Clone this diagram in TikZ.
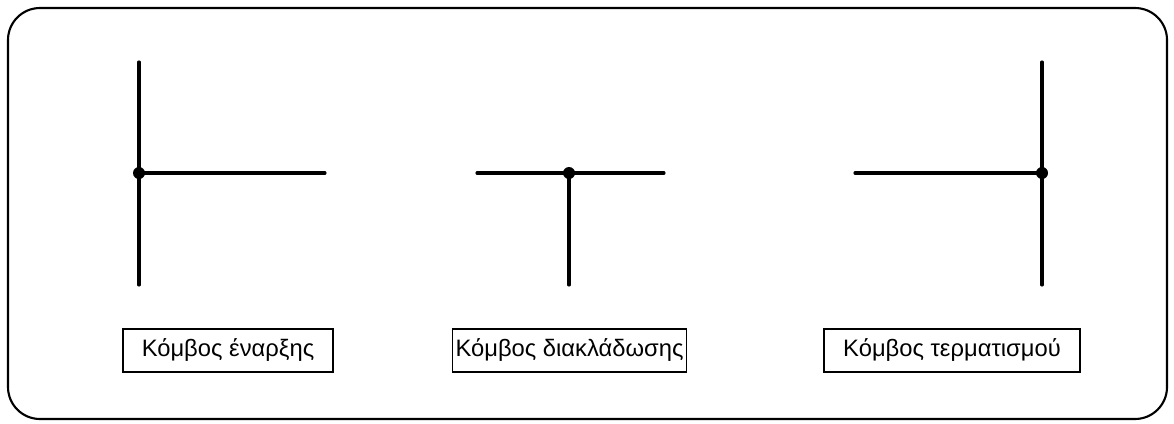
\documentclass[tikz,border=0pt]{standalone}
\usepackage{fontspec}
\setmainfont{Liberation Sans}
\usepackage{tikz}

\tikzset{
  branch/.style={line width=2.2pt, line cap=round},
  knot/.style={circle, fill=black, inner sep=0pt, minimum size=0.3cm},
  caption/.style={draw, line width=1.3pt, inner sep=0pt, minimum height=1.07cm, font=\fontsize{16.9}{19}\selectfont}
}

\begin{document}
\begin{tikzpicture}[x=0.025cm, y=-0.025cm]
	\useasboundingbox (0,0) rectangle (1174,423);
	\draw[line width=1.5pt, rounded corners=0.8cm] (8,8) rectangle (1167,419);
	
	% start node
	\node[knot] (k1) at (139,173) {};
	\coordinate (k1top) at (139,62);
	\coordinate (k1bot) at (139,285);
	\coordinate (k1right) at (325,173);
	\draw[branch] (k1top) -- (k1bot);
	\draw[branch] (k1.center) -- (k1right);
	\node[caption, minimum width=5.25cm] (c1) at (228,350.5) {Κόμβος έναρξης};
	
	% branch node
	\node[knot] (k2) at (569,173) {};
	\coordinate (k2left) at (477,173);
	\coordinate (k2right) at (664,173);
	\coordinate (k2bot) at (569,285);
	\draw[branch] (k2left) -- (k2right);
	\draw[branch] (k2.center) -- (k2bot);
	\node[caption, minimum width=5.85cm] (c2) at (569.5,350.5) {Κόμβος διακλάδωσης};
	
	% end node
	\node[knot] (k3) at (1042,173) {};
	\coordinate (k3top) at (1042,62);
	\coordinate (k3bot) at (1042,285);
	\coordinate (k3left) at (855,173);
	\draw[branch] (k3top) -- (k3bot);
	\draw[branch] (k3left) -- (k3.center);
	\node[caption, minimum width=6.4cm] (c3) at (952,350.5) {Κόμβος τερματισμού};
\end{tikzpicture}
\end{document}
